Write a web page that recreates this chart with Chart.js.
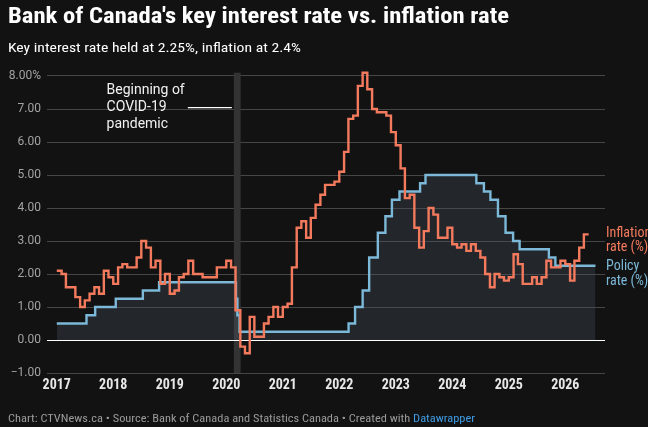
<!DOCTYPE html>
<html><head><meta charset="utf-8">
<script src="https://cdn.jsdelivr.net/npm/chart.js@4.4.1/dist/chart.umd.min.js"></script>
<style>
html,body{margin:0;padding:0;background:#fff;}
#wrap{position:relative;width:648px;height:427px;background:#121212;overflow:hidden;}
#c{position:absolute;left:0;top:0;}
.txt{position:absolute;left:8px;white-space:nowrap;line-height:1;transform-origin:0 0;font-family:"Roboto Condensed",Roboto,sans-serif;}
#title{top:4.8px;font-size:22px;font-weight:700;color:#fff;}
#sub{top:41.3px;font-size:13.5px;color:#fff;}
#foot{top:413.9px;font-size:10.5px;color:#9b9b9b;}
#foot span{color:#3f9de6;}
</style></head>
<body>
<div id="wrap">
<canvas id="c" width="648" height="427"></canvas>
<div id="title" class="txt">Bank of Canada's key interest rate vs. inflation rate</div>
<div id="sub" class="txt">Key interest rate held at 2.25%, inflation at 2.4%</div>
<div id="foot" class="txt">Chart: CTVNews.ca • Source: Bank of Canada and Statistics Canada • Created with <span>Datawrapper</span></div>
</div>
<script>
// ---- data ----
const inflationStart = '2017-01';
const inflationRate = [
  2.1, 2.0, 1.6, 1.6, 1.3, 1.0, 1.2, 1.4, 1.6, 1.4, 2.1, 1.9,
  1.7, 2.2, 2.3, 2.2, 2.2, 2.5, 3.0, 2.8, 2.2, 2.4, 1.7, 2.0,
  1.4, 1.5, 1.9, 2.0, 2.4, 2.0, 2.0, 1.9, 1.9, 1.9, 2.2, 2.2,
  2.4, 2.2, 0.9, -0.2, -0.4, 0.7, 0.1, 0.1, 0.5, 0.7, 1.0, 0.7,
  1.0, 1.1, 2.2, 3.4, 3.6, 3.1, 3.7, 4.1, 4.4, 4.7, 4.7, 4.8,
  5.1, 5.7, 6.7, 6.8, 7.7, 8.1, 7.6, 7.0, 6.9, 6.9, 6.8, 6.3,
  5.9, 5.2, 4.3, 4.4, 3.4, 2.8, 3.3, 4.0, 3.8, 3.1, 3.1, 3.4,
  2.9, 2.8, 2.9, 2.7, 2.9, 2.7, 2.5, 2.0, 1.6, 2.0, 1.9, 1.8,
  1.9, 2.6, 2.3, 1.7, 1.7, 1.9, 1.7, 1.9, 2.4, 2.2, 2.2, 2.4,
  2.3, 1.8, 2.4, 2.8, 3.2
];
const policyDates = ['2017-01-01','2017-07-12','2017-09-06','2018-01-17','2018-07-11','2018-10-24',
  '2020-03-04','2020-03-13','2020-03-27','2022-03-02','2022-04-13','2022-06-01','2022-07-13',
  '2022-09-07','2022-10-26','2022-12-07','2023-01-25','2023-06-07','2023-07-12','2024-06-05',
  '2024-07-24','2024-09-04','2024-10-23','2024-12-11','2025-01-29','2025-03-12','2025-09-17',
  '2025-10-29','2026-07-15'];
const policyRate = [0.5, 0.75, 1.0, 1.25, 1.5, 1.75, 1.25, 0.75, 0.25, 0.5, 1.0, 1.5, 2.5,
  3.25, 3.75, 4.25, 4.5, 4.75, 5.0, 4.75, 4.5, 4.25, 3.75, 3.25, 3.0, 2.75, 2.5, 2.25, 2.25];
const xTickYears = [2017, 2018, 2019, 2020, 2021, 2022, 2023, 2024, 2025, 2026];
const yTickValues = [-1, 0, 1, 2, 3, 4, 5, 6, 7, 8];
const yTickLabels = ['\u22121.00','0.00','1.00','2.00','3.00','4.00','5.00','6.00','7.00','8.00%'];
const seriesNames = ['Inflation rate (%)', 'Policy rate (%)'];
const seriesLabelLines = [['Inflation','rate (%)'], ['Policy','rate (%)']];
const covidRange = ['2020-02-19', '2020-04-03'];
const covidNote = ['Beginning of', 'COVID-19', 'pandemic'];

// ---- helpers ----
function fracYear(ms){
  const y = new Date(ms).getUTCFullYear();
  const s = Date.UTC(y,0,1), e = Date.UTC(y+1,0,1);
  return y + (ms - s) / (e - s);
}
function toYear(str){
  const [y,m,d] = str.split('-').map(Number);
  return fracYear(Date.UTC(y, m-1, d));
}
function monthToYear(i){
  const [sy, sm] = inflationStart.split('-').map(Number);
  const t = (sm - 1) + i;
  return fracYear(Date.UTC(sy + Math.floor(t/12), t % 12, 1));
}
function hasFont(name){
  const c = document.createElement('canvas').getContext('2d');
  const s = 'abcdefghijklmnopqrstuvwxyz0123';
  c.font = '40px monospace'; const w0 = c.measureText(s).width;
  c.font = '40px "' + name + '", monospace';
  return c.measureText(s).width !== w0;
}
const COND = hasFont('Roboto Condensed');

// fit header/footer text widths
[['title',501],['sub',293],['foot',467]].forEach(([id,w])=>{
  const el = document.getElementById(id);
  const cw = el.getBoundingClientRect().width;
  el.style.transform = 'scaleX(' + (w/cw) + ')';
});

const inflationColor = '#f47a5d';
const policyColor = '#7cb8d8';

const inflationPoints = inflationRate.map((v,i)=>({x: monthToYear(i), y: v}));
inflationPoints.push({x: monthToYear(inflationRate.length), y: inflationRate[inflationRate.length-1]});
const policyPoints = policyDates.map((d,i)=>({x: toYear(d), y: policyRate[i]}));

function drawCondText(ctx, text, x, y, size, weight, color){
  ctx.save();
  ctx.fillStyle = color;
  ctx.textBaseline = 'middle';
  ctx.textAlign = 'left';
  if (COND){
    ctx.font = weight + ' ' + size + 'px "Roboto Condensed"';
    ctx.fillText(text, x, y);
  } else {
    ctx.font = weight + ' ' + size + 'px Roboto';
    ctx.translate(x, y); ctx.scale(0.82, 1);
    ctx.fillText(text, 0, 0);
  }
  ctx.restore();
}

const decor = {
  id: 'decor',
  beforeDatasetsDraw(chart){
    const {ctx, chartArea:a, scales:{x}} = chart;
    const x0 = x.getPixelForValue(toYear(covidRange[0]));
    const x1 = x.getPixelForValue(toYear(covidRange[1]));
    ctx.save();
    ctx.fillStyle = '#333333';
    ctx.fillRect(x0, a.top, x1 - x0, a.bottom - a.top);
    ctx.restore();
  },
  afterDatasetDraw(chart, args){
    if (args.index !== 1) return;
    const {ctx, chartArea:a, scales:{y}} = chart;
    const py = Math.round(y.getPixelForValue(0) - 0.5) + 0.5;
    ctx.save();
    ctx.strokeStyle = '#ffffff';
    ctx.lineWidth = 1.2;
    ctx.beginPath(); ctx.moveTo(a.left, py); ctx.lineTo(a.right, py); ctx.stroke();
    ctx.restore();
  },
  afterDatasetsDraw(chart){
    const {ctx, chartArea:a, scales:{x, y}} = chart;
    // covid annotation
    const bx = x.getPixelForValue(toYear(covidRange[0]));
    const midY = y.getPixelForValue(7.04);
    ctx.save();
    ctx.fillStyle = '#f2f2f2';
    ctx.font = '14px Roboto';
    ctx.textBaseline = 'middle';
    ctx.textAlign = 'left';
    covidNote.forEach((t,i)=> ctx.fillText(t, bx - 127.3, midY + (i-1)*16.7));
    ctx.strokeStyle = '#ffffff';
    ctx.lineWidth = 1.3;
    ctx.beginPath(); ctx.moveTo(bx - 46, midY); ctx.lineTo(bx - 2, midY); ctx.stroke();
    ctx.restore();
    // end labels
    const lx = a.right + 1;
    const iy = y.getPixelForValue(inflationRate[inflationRate.length-1]) - 1;
    const py = y.getPixelForValue(policyRate[policyRate.length-1]) + 0.8;
    seriesLabelLines[0].forEach((t,i)=> drawCondText(ctx, t, lx, iy + i*14.5, 14, 'normal', inflationColor));
    seriesLabelLines[1].forEach((t,i)=> drawCondText(ctx, t, lx, py + i*14.5, 14, 'normal', policyColor));
  }
};

new Chart(document.getElementById('c'), {
  type: 'line',
  data: {
    datasets: [
      {
        label: seriesNames[0],
        data: inflationPoints,
        borderColor: inflationColor,
        borderWidth: 2.4,
        stepped: true,
        pointRadius: 0,
        fill: false,
        order: 1,
        clip: false
      },
      {
        label: seriesNames[1],
        data: policyPoints,
        borderColor: policyColor,
        backgroundColor: 'rgba(75,85,98,0.3)',
        borderWidth: 2.4,
        stepped: true,
        pointRadius: 0,
        fill: 'origin',
        order: 2,
        clip: false
      }
    ]
  },
  options: {
    responsive: false,
    animation: false,
    events: [],
    layout: { padding: { left: 0, top: 72.7, right: 43, bottom: 0 } },
    plugins: { legend: { display: false }, tooltip: { enabled: false }, title: { display: false } },
    scales: {
      x: {
        type: 'linear',
        min: 2016.827,
        max: 2026.703,
        grid: { display: false, drawTicks: false },
        border: { display: false },
        afterBuildTicks: s => { s.ticks = xTickYears.map(v => ({ value: v })); },
        afterFit: s => { s.height = 54; },
        ticks: {
          autoSkip: false,
          maxRotation: 0,
          padding: COND ? 4.3 : 5.2,
          color: '#e8e8e8',
          font: COND ? { family: '"Roboto Condensed"', size: 14, weight: 'bold' } : { family: 'Roboto', size: 12.5, weight: 'bold' },
          callback: (v) => String(v)
        }
      },
      y: {
        type: 'linear',
        min: -1,
        max: 8.1,
        grid: {
          drawTicks: false,
          lineWidth: 1,
          color: c => (c.tick && c.tick.value === 0) ? 'rgba(0,0,0,0)' : '#464646'
        },
        border: { display: false },
        afterBuildTicks: s => { s.ticks = yTickValues.map(v => ({ value: v })); },
        afterFit: s => { s.width = 47; },
        ticks: {
          padding: 6,
          color: '#a3a3a3',
          font: { family: 'Roboto', size: 12 },
          callback: (v, i) => yTickLabels[i]
        }
      }
    }
  },
  plugins: [decor]
});
</script>
</body></html>
